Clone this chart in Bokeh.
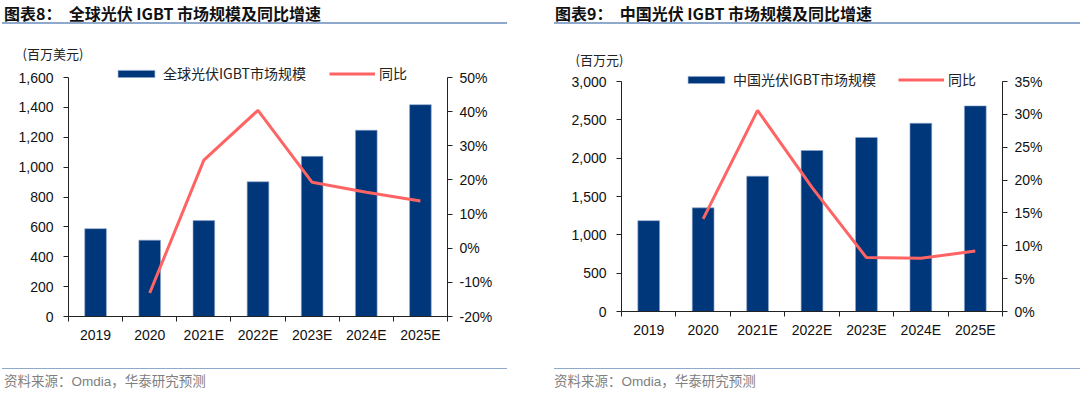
from bokeh.plotting import figure
from bokeh.models import (Range1d, LinearAxis, FixedTicker, NumeralTickFormatter,
                          PrintfTickFormatter, Legend, LegendItem, Title, Div,
                          CustomJSTickFormatter)
from bokeh.layouts import row, column
from bokeh.embed import file_html
from bokeh.resources import INLINE

years = ["2019", "2020", "2021E", "2022E", "2023E", "2024E", "2025E"]
global_size = [588, 511, 642, 902, 1072, 1247, 1418]
global_yoy = [float("nan"), -13.1, 25.8, 40.4, 19.3, 16.4, 13.8]
china_size = [1185, 1352, 1765, 2100, 2270, 2455, 2682]
china_yoy = [float("nan"), 14.1, 30.6, 18.9, 8.2, 8.1, 9.2]

BAR = "#00377A"
LINE = "#FF6464"
FONT = "'Liberation Sans', 'Noto Sans CJK SC'"
CJK = "'Noto Sans CJK SC', 'Liberation Sans'"


def make_chart(W, H, mb, axis_len, size, yoy, ymax, ystep, pmin, pmax, pstep,
               bar_label, unit, leg_loc, leg_spacing):
    xs = [i + 0.5 for i in range(len(years))]
    frame_h = H - mb[2] - mb[3]
    k = frame_h / axis_len  # frame taller than the axes; legend sits on top
    p = figure(width=W, height=H, x_range=Range1d(0, len(years)),
               y_range=Range1d(0, ymax * k), output_backend="svg",
               toolbar_location=None, min_border_left=mb[0],
               min_border_right=mb[1], min_border_top=mb[2],
               min_border_bottom=mb[3])
    p.extra_y_ranges = {"pct": Range1d(pmin, pmin + (pmax - pmin) * k)}
    p.xgrid.visible = False
    p.ygrid.visible = False
    p.outline_line_color = None
    p.background_fill_color = "white"
    p.border_fill_color = "white"

    xa = p.xaxis[0]
    xa.ticker = FixedTicker(ticks=xs, minor_ticks=list(range(len(years) + 1)))
    xa.formatter = CustomJSTickFormatter(args=dict(cats=years),
                                         code="return cats[Math.floor(tick)] || ''")
    xa.minor_tick_out = 5
    xa.minor_tick_in = 0
    xa.minor_tick_line_color = "#222222"
    xa.major_label_standoff = 4

    ya = p.yaxis[0]
    ya.ticker = FixedTicker(ticks=list(range(0, ymax + 1, ystep)))
    ya.formatter = NumeralTickFormatter(format="0,0")
    ya.bounds = (0, ymax)
    ya.major_tick_out = 5
    ya.major_tick_in = 0
    ya.minor_tick_line_color = None
    ya.major_label_standoff = 10

    ra = LinearAxis(y_range_name="pct",
                    ticker=FixedTicker(ticks=list(range(pmin, pmax + 1, pstep))),
                    formatter=PrintfTickFormatter(format="%d%%"),
                    bounds=(pmin, pmax))
    ra.major_tick_out = 5
    ra.major_tick_in = 0
    ra.minor_tick_line_color = None
    ra.major_label_standoff = 7
    p.add_layout(ra, "right")

    for ax in (xa, ya, ra):
        ax.axis_line_color = "#222222"
        ax.major_tick_line_color = "#222222" if ax is not xa else None
        ax.major_label_text_font = FONT
        ax.major_label_text_font_size = "14px"
        ax.major_label_text_color = "#111111"

    bars = p.vbar(x=xs, top=size, width=0.4, fill_color=BAR,
                  line_color="#8FA6CC", line_width=0.6)
    ln = p.line(x=xs, y=yoy, y_range_name="pct", line_color=LINE, line_width=3)

    lg = Legend(items=[LegendItem(label=bar_label, renderers=[bars]),
                       LegendItem(label="同比", renderers=[ln])],
                orientation="horizontal", location=leg_loc,
                glyph_width=46, glyph_height=9, label_standoff=4,
                spacing=leg_spacing, padding=0, margin=0, label_height=9,
                border_line_color=None, background_fill_alpha=0,
                label_text_font=CJK, label_text_font_size="14px",
                label_text_color="#222222")
    p.add_layout(lg)

    p.add_layout(Title(text=unit, align="left", offset=-46, standoff=0,
                       text_font=CJK, text_font_size="13px",
                       text_font_style="normal", text_color="#222222"), "above")
    return p


def title_div(text, width, ml, pl):
    return Div(text=text, width=width, height=24, margin=(0, 0, 0, ml),
               styles={"font-family": CJK, "font-size": "16px",
                       "font-weight": "bold", "color": "#111111",
                       "border-bottom": "2px solid #8EA9CB",
                       "padding-top": "5px", "padding-left": f"{pl}px",
                       "line-height": "17px", "white-space": "nowrap",
                       "box-sizing": "border-box"})


def source_div(width, ml, pl):
    return Div(text="资料来源：Omdia，华泰研究预测", width=width, height=24,
               margin=(0, 0, 0, ml),
               styles={"font-family": FONT, "font-size": "13.5px",
                       "color": "#808080", "border-top": "1px solid #8EA9CB",
                       "padding-top": "5px", "padding-left": f"{pl}px",
                       "line-height": "16px", "white-space": "nowrap",
                       "box-sizing": "border-box"})


p1 = make_chart(540, 344, (68, 93, 38, 52), 239, global_size, global_yoy, 1600, 200,
                -20, 50, 10, "全球光伏IGBT市场规模", "(百万美元)", (45, 233), 23)
p2 = make_chart(540, 344, (81, 78, 44, 57), 230, china_size, china_yoy, 3000, 500,
                0, 35, 5, "中国光伏IGBT市场规模", "(百万元)", (62, 222), 22)

c1 = column(title_div("图表8：&nbsp;&nbsp;全球光伏 IGBT 市场规模及同比增速", 505, 2, 2),
            p1, source_div(505, 2, 2))
c2 = column(title_div("图表9：&nbsp;&nbsp;中国光伏 IGBT 市场规模及同比增速", 526, 14, 1),
            p2, source_div(526, 14, 0))
layout = row(c1, c2)

open("out.html", "w").write(file_html(layout, INLINE))
